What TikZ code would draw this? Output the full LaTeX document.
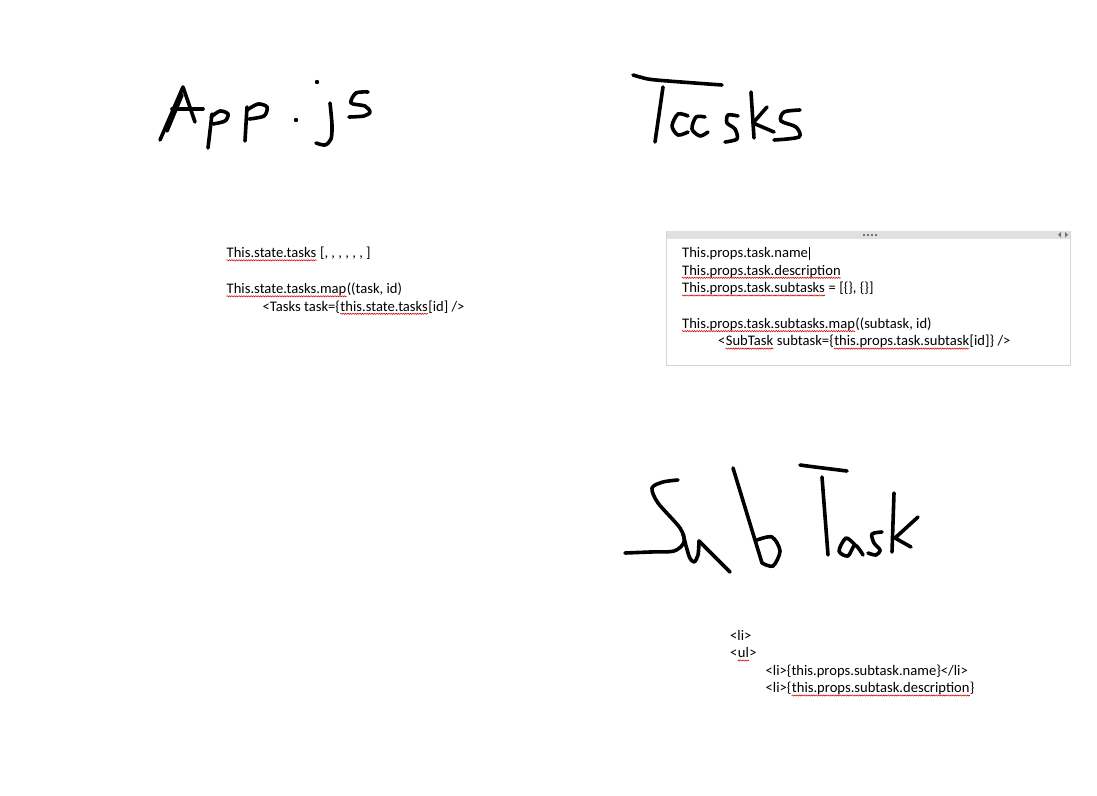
\documentclass[tikz,border=0pt]{standalone}
\usepackage{fontspec}
\setmainfont{Carlito}
\usepackage{tikz}
\usetikzlibrary{decorations.pathmorphing}

\begin{document}
\begin{tikzpicture}[x=1pt,y=-1pt,
	ink/.style={line width=3.6pt, line cap=round, line join=round},
	codeline/.style={anchor=base west, inner sep=0pt, font=\fontsize{14.6}{17.8}\selectfont},
	squiggle/.style={red!85!black, line width=0.55pt, decorate, decoration={zigzag, amplitude=0.6pt, segment length=2.4pt}},
	boxline/.style={draw=black!17, line width=1pt},
	bargray/.style={fill=black!12}
	]
	\useasboundingbox[fill=white] (0,0) rectangle (1097,795);
	
	% App.js
	\draw[ink] (160,140) -- (183,87) -- (195,122);
	\draw[ink] (167,131) -- (182,95);
	\draw[ink] (172,109) -- (203,109);
	\draw[ink] (212,114) -- (208,148);
	\draw[ink] plot[smooth] coordinates {(211,117) (220,111) (228,114) (225,121) (213,124)};
	\draw[ink] (247,107) -- (245,141);
	\draw[ink] plot[smooth] coordinates {(247,110) (258,104) (267,107) (264,116) (249,119)};
	\fill (296,120) circle (2.2);
	\fill (317,82) circle (2.2);
	\draw[ink] plot[smooth] coordinates {(330,103) (332,125) (331,139) (325,145) (316,143)};
	\draw[ink] plot[smooth] coordinates {(368,92) (356,93) (351,103) (365,106) (370,112) (364,116) (349,117)};
	
	% Tasks
	\draw[ink] plot[smooth] coordinates {(633,75) (648,79) (668,81) (722,85)};
	\draw[ink] (663,87) -- (655,142);
	\draw[ink] plot[smooth] coordinates {(688,116) (678,114) (672,126) (678,135) (688,132)};
	\draw[ink] plot[smooth] coordinates {(705,117) (696,117) (692,129) (700,136) (708,132)};
	\draw[ink] plot[smooth] coordinates {(738,116) (728,115) (727,123) (735,129) (737,139) (725,142)};
	\draw[ink] (751,92) -- (754,138);
	\draw[ink] (767,107) -- (753,123) -- (774,132);
	\draw[ink] plot[smooth] coordinates {(800,110) (784,112) (781,121) (796,127) (799,137) (774,140)};
	
	% SubTask
	\draw[ink] plot[smooth] coordinates {(625,553) (650,552) (674,551) (684,542) (680,528) (658,503) (652,488) (663,482) (678,480)};
	\draw[ink] plot[smooth] coordinates {(683,534) (689,556) (694,562) (698,555) (699,541)};
	\draw[ink] (699,541) -- (730,572);
	\draw[ink] (733,468) -- (762,563);
	\draw[ink] plot[smooth] coordinates {(757,540) (772,537) (780,551) (773,566) (762,563)};
	\draw[ink] plot[smooth] coordinates {(800,465) (815,467) (847,471)};
	\draw[ink] (822,477) -- (828,555);
	\draw[ink] plot[smooth] coordinates {(855,545) (846,538) (839,551) (848,556) (855,545) (863,555)};
	\draw[ink] plot[smooth] coordinates {(882,532) (872,534) (874,543) (880,550) (876,555) (868,553)};
	\draw[ink] (894,493) -- (892,552);
	\draw[ink] (918,517) -- (895,538) -- (911,547);
	
	% note container
	\draw[boxline] (666.5,231) rectangle (1070,365);
	\fill[bargray] (666.5,231) rectangle (1070,238.5);
	\foreach \x in {863,867,871,875}
		\fill[black!55] (\x,234) rectangle ++(2,2);
	\fill[black!55] (1061,232) -- (1058,234.8) -- (1061,237.6) -- cycle;
	\fill[black!55] (1065,232) -- (1068,234.8) -- (1065,237.6) -- cycle;
	
	% App.js text
	\node[codeline] (app1a) at (226.5,257.5) {This.state.tasks};
	\node[codeline] (app1b) at (app1a.base east) {\ [, , , , , , ]};
	\node[codeline] (app2a) at (226.5,293.5) {This.state.tasks.map};
	\node[codeline] (app2b) at (app2a.base east) {((task, id)};
	\node[codeline] (app3a) at (262.5,311) {<Tasks task=\{};
	\node[codeline] (app3b) at (app3a.base east) {this.state.tasks};
	\node[codeline] (app3c) at (app3b.base east) {[id] />};
	
	% Tasks text
	\node[codeline] (task1) at (682,257.3) {This.props.task.name};
	\node[codeline] (task2a) at (682,275) {This.props.task.description};
	\node[codeline] (task3a) at (682,292.7) {This.props.task.subtasks};
	\node[codeline] (task3b) at (task3a.base east) {\ = [\{\}, \{\}]};
	\node[codeline] (task4a) at (682,328.3) {This.props.task.subtasks.map};
	\node[codeline] (task4b) at (task4a.base east) {((subtask, id)};
	\node[codeline] (task5a) at (718,345.8) {<};
	\node[codeline] (task5b) at (task5a.base east) {SubTask};
	\node[codeline] (task5c) at (task5b.base east) {\ subtask=\{};
	\node[codeline] (task5d) at (task5c.base east) {this.props.task.subtask};
	\node[codeline] (task5e) at (task5d.base east) {[id]\} />};
	\draw[line width=1pt] ([xshift=1.5pt,yshift=-2.7pt]task1.base east) -- ([xshift=1.5pt,yshift=10.6pt]task1.base east);
	
	% SubTask text
	\node[codeline] (sub1) at (730,640) {<li>};
	\node[codeline] (sub2a) at (730,657.7) {<};
	\node[codeline] (sub2b) at (sub2a.base east) {ul};
	\node[codeline] (sub2c) at (sub2b.base east) {>};
	\node[codeline] (sub3) at (765.5,675) {<li>\{this.props.subtask.name\}</li>};
	\node[codeline] (sub4a) at (765.5,692.7) {<li>\{};
	\node[codeline] (sub4b) at (sub4a.base east) {this.props.subtask.description};
	\node[codeline] (sub4c) at (sub4b.base east) {\}};
	
	% spelling marks
	\foreach \w in {app1a,app2a,app3b,task2a,task3a,task4a,task5b,task5d,sub2b,sub4b}
		\draw[squiggle] ([yshift=-2.8pt]\w.base west) -- ([yshift=-2.8pt]\w.base east);
\end{tikzpicture}
\end{document}
